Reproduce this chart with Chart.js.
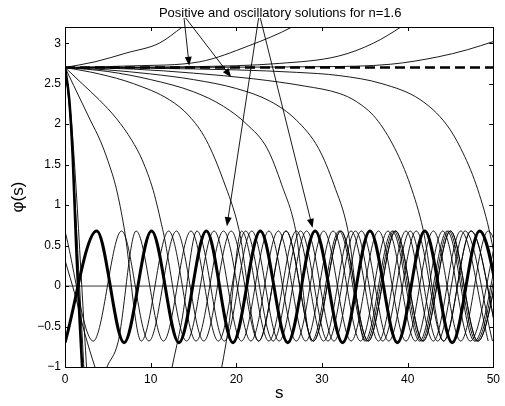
<!DOCTYPE html>
<html>
<head>
<meta charset="utf-8">
<script src="https://cdn.jsdelivr.net/npm/chart.js@4.4.0/dist/chart.umd.min.js"></script>
<style>
  html, body { margin: 0; padding: 0; background: #fff; }
  canvas { display: block; }
</style>
</head>
<body>
<canvas id="chart-phi" width="505" height="406"></canvas>
<script>
// ---- data: [s, phi] pairs ----
const TITLE = 'Positive and oscillatory solutions for n=1.6';
const X_TICKS = [0, 10, 20, 30, 40, 50];

const constLevel = [[0, 2.7], [50, 2.7]];
const zeroLine   = [[0, 0], [50, 0]];

// curves leaving the constant solution upwards
const up1 = [[0, 2.7], [3.5, 2.77], [7.2, 2.88], [11, 3.0], [13.7, 3.2], [15, 3.3]];
const up2 = [[0, 2.7], [8, 2.72], [15.7, 2.77], [21.5, 2.97], [26.5, 3.2], [28, 3.3]];
const up3 = [[0, 2.7], [15, 2.71], [25, 2.75], [31.9, 2.84], [36, 3.0], [39.2, 3.2], [40.5, 3.3]];
const up4 = [[0, 2.7], [30, 2.71], [38, 2.74], [43.5, 2.83], [47, 2.92], [50, 3.02]];

// curves leaving the constant solution downwards
const dropThick = [[0, 2.7], [0.5, 2.3], [0.9, 1.6], [1.3, 0.5], [1.65, -0.3], [2.0, -1.0], [2.3, -1.6]];
// steep drops that dive below the frame and come back into the band
const dropA = [[0, 2.7], [0.6, 2.1], [1.1, 1.2], [1.6, 0.2], [2.1, -0.8], [2.4, -1.4], [3, -2.2], [4, -2.6],
  [6, -3.0], [8.5, -2.7], [10.8, -1.9], [12.5, -1.0], [13.6, -0.45], [15.4, 0.68], [18.6, -0.68], [21.8, 0.68],
  [25.0, -0.68], [28.2, 0.68], [31.4, -0.68], [34.6, 0.68], [37.8, -0.68], [41.0, 0.68], [44.2, -0.68],
  [47.4, 0.68], [50.6, -0.68]];
const dropB = [[0, 2.7], [0.7, 2.1], [1.3, 1.2], [1.85, 0.2], [2.4, -0.8], [2.7, -1.3], [3.5, -2.2], [6, -3.2],
  [10, -3.3], [14, -2.6], [16.6, -1.8], [18.3, -1.0], [19.1, -0.5], [20.6, 0.68], [23.8, -0.68], [27.0, 0.68],
  [30.2, -0.68], [33.4, 0.68], [36.6, -0.68], [39.8, 0.68], [43.0, -0.68], [46.2, 0.68], [49.4, -0.68]];
const down2 = [[0, 2.7], [1, 2.48], [2, 2.26], [3, 2.04], [4.1, 1.8], [5, 1.55], [6, 1.2], [6.9, 0.72],
  [8.9, -0.68], [12.1, 0.68], [15.3, -0.68], [18.5, 0.68], [21.7, -0.68], [24.9, 0.68], [28.1, -0.68],
  [31.3, 0.68], [34.5, -0.68], [37.7, 0.68], [40.9, -0.68], [44.1, 0.68], [47.3, -0.68], [50.5, 0.68]];
const down3 = [[0, 2.7], [2, 2.5], [4, 2.3], [6, 2.07], [7.8, 1.8], [9, 1.56], [10.3, 1.18], [11.4, 0.7],
  [14.2, -0.68], [17.4, 0.68], [20.6, -0.68], [23.8, 0.68], [27.0, -0.68], [30.2, 0.68], [33.4, -0.68],
  [36.6, 0.68], [39.8, -0.68], [43.0, 0.68], [46.2, -0.68], [49.4, 0.68], [52.6, -0.68]];
const down4 = [[0, 2.7], [4, 2.62], [8, 2.5], [12.2, 2.3], [14.5, 2.1], [16.5, 1.8], [18.5, 1.3], [20.3, 0.7],
  [22.6, -0.68], [25.8, 0.68], [29.0, -0.68], [32.2, 0.68], [35.4, -0.68], [38.6, 0.68], [41.8, -0.68],
  [45.0, 0.68], [48.2, -0.68], [51.4, 0.68]];
const down5 = [[0, 2.7], [5, 2.65], [10, 2.55], [15, 2.4], [18.5, 2.22], [21.2, 2.0], [23.6, 1.7], [25.3, 1.25], [26.9, 0.7],
  [28.8, -0.68], [32.0, 0.68], [35.2, -0.68], [38.4, 0.68], [41.6, -0.68], [44.8, 0.68], [48.0, -0.68], [51.2, 0.68]];
const down6 = [[0, 2.7], [5, 2.67], [10, 2.62], [15, 2.55], [20, 2.44], [24, 2.28], [27, 2.05], [29.6, 1.7], [31.4, 1.25], [33, 0.7],
  [35.0, -0.68], [38.2, 0.68], [41.4, -0.68], [44.6, 0.68], [47.8, -0.68], [51.0, 0.68]];
const down7 = [[0, 2.7], [8, 2.68], [15, 2.63], [22, 2.56], [28, 2.47], [32, 2.38], [34, 2.28], [36.3, 2.07], [38.5, 1.7],
  [40.3, 1.25], [41.8, 0.7], [44.2, -0.68], [47.4, 0.68], [50.6, -0.68]];
const down8 = [[0, 2.7], [10, 2.69], [20, 2.67], [27, 2.64], [32, 2.6], [37, 2.5], [41.5, 2.3], [44.5, 2.0], [46.2, 1.7],
  [48, 1.25], [49.5, 0.7], [50.8, 0.0]];

// oscillatory solutions starting near zero
const oscThick = [[0, -0.7], [3.7, 0.68], [6.9, -0.7], [10.1, 0.68], [13.3, -0.7], [16.5, 0.68], [19.6, -0.7],
  [22.8, 0.68], [26.0, -0.7], [29.2, 0.68], [32.4, -0.7], [35.6, 0.68], [38.8, -0.7], [42.0, 0.68],
  [45.2, -0.7], [48.4, 0.68], [51.6, -0.7]];
const osc1 = [[0, 0.68], [3.3, -0.68], [6.6, 0.68], [9.8, -0.68], [13.0, 0.68], [16.2, -0.68], [19.4, 0.68],
  [22.6, -0.68], [25.8, 0.68], [29.0, -0.68], [32.2, 0.68], [35.4, -0.68], [38.6, 0.68], [41.8, -0.68],
  [45.0, 0.68], [48.2, -0.68], [51.4, 0.68]];
const osc2 = [[0, 0.32], [1.2, -0.12], [2.3, -0.58], [3.5, -1.0], [4.2, -1.2], [4.9, -1.0], [6.2, -0.69], [8.3, 0.68],
  [11.5, -0.68], [14.7, 0.68], [17.9, -0.68], [21.1, 0.68], [24.3, -0.68], [27.5, 0.68], [30.7, -0.68],
  [33.9, 0.68], [37.1, -0.68], [40.3, 0.68], [43.5, -0.68], [46.7, 0.68], [49.9, -0.68]];

// annotation arrows in data units: [from, to]
const ARROWS = [
  [[13.9, 3.31], [14.5, 2.72]],
  [[14.1, 3.31], [19.4, 2.58]],
  [[22.6, 3.31], [18.9, 0.74]],
  [[22.8, 3.31], [28.9, 0.72]]
];

const pts = arr => arr.map(([x, y]) => ({ x, y }));

const thin = [up1, up2, up3, up4, dropA, dropB, down2, down3, down4, down5, down6, down7, down8, osc1, osc2];

Chart.defaults.font.family = "'Liberation Sans', Arial, Helvetica, sans-serif";
Chart.defaults.color = '#000';

const datasets = [
  { data: pts(zeroLine), borderColor: '#000', borderWidth: 0.8 },
  ...thin.map(c => ({ data: pts(c), borderColor: '#000', borderWidth: 0.9 })),
  { data: pts(dropThick), borderColor: '#000', borderWidth: 2.6 },
  { data: pts(oscThick), borderColor: '#000', borderWidth: 3 },
  { data: pts(constLevel), borderColor: '#000', borderWidth: 2.6, borderDash: [10, 5], cubicInterpolationMode: 'default', tension: 0 }
];

const frameTicks = {
  id: 'frameTicks',
  afterDraw(chart) {
    const { ctx, chartArea: a, scales: { x, y } } = chart;
    ctx.save();
    ctx.strokeStyle = '#000';
    ctx.lineWidth = 1;
    ctx.strokeRect(Math.round(a.left) + 0.5, Math.round(a.top) + 0.5,
      Math.round(a.right - a.left), Math.round(a.bottom - a.top));
    const L = 4;
    ctx.beginPath();
    x.ticks.forEach(t => {
      const px = Math.round(x.getPixelForValue(t.value)) + 0.5;
      ctx.moveTo(px, a.bottom); ctx.lineTo(px, a.bottom - L);
      ctx.moveTo(px, a.top); ctx.lineTo(px, a.top + L);
    });
    y.ticks.forEach(t => {
      const py = Math.round(y.getPixelForValue(t.value)) + 0.5;
      ctx.moveTo(a.left, py); ctx.lineTo(a.left + L, py);
      ctx.moveTo(a.right, py); ctx.lineTo(a.right - L, py);
    });
    ctx.stroke();

    // arrows
    ctx.lineWidth = 0.9;
    ARROWS.forEach(([f, t]) => {
      const x0 = x.getPixelForValue(f[0]), y0 = y.getPixelForValue(f[1]);
      const x1 = x.getPixelForValue(t[0]), y1 = y.getPixelForValue(t[1]);
      const ang = Math.atan2(y1 - y0, x1 - x0);
      const hl = 9, hw = 3.5;
      ctx.beginPath();
      ctx.moveTo(x0, y0); ctx.lineTo(x1 - Math.cos(ang) * hl * 0.6, y1 - Math.sin(ang) * hl * 0.6);
      ctx.stroke();
      const bx = x1 - Math.cos(ang) * hl, by = y1 - Math.sin(ang) * hl;
      ctx.beginPath();
      ctx.moveTo(x1, y1);
      ctx.lineTo(bx - Math.sin(ang) * hw, by + Math.cos(ang) * hw);
      ctx.lineTo(bx + Math.sin(ang) * hw, by - Math.cos(ang) * hw);
      ctx.closePath();
      ctx.fillStyle = '#000';
      ctx.fill();
    });

    // title
    ctx.font = "13px 'Liberation Sans', Arial, sans-serif";
    ctx.textAlign = 'center';
    ctx.textBaseline = 'middle';
    ctx.fillStyle = '#000';
    ctx.fillText(TITLE, (a.left + a.right) / 2 + 1, 13);
    ctx.restore();
  }
};

new Chart(document.getElementById('chart-phi'), {
  type: 'line',
  data: { datasets },
  options: {
    responsive: false,
    animation: false,
    devicePixelRatio: 1,
    layout: { padding: { top: 27, right: 9, left: 0, bottom: 0 } },
    elements: {
      point: { radius: 0 },
      line: { cubicInterpolationMode: 'monotone', fill: false }
    },
    plugins: { legend: { display: false }, tooltip: { enabled: false }, title: { display: false } },
    scales: {
      x: {
        type: 'linear', min: 0, max: 50,
        afterFit: s => { s.height = 39; },
        afterBuildTicks: s => { s.ticks = X_TICKS.map(v => ({ value: v })); },
        grid: { display: false, drawTicks: false },
        border: { display: false },
        ticks: { padding: 5, font: { size: 12 }, color: '#000', maxRotation: 0 },
        title: { display: true, text: 's', font: { size: 17 }, color: '#000', padding: { top: 0, bottom: 2 } }
      },
      y: {
        type: 'linear', min: -1, max: 3.2,
        afterFit: s => { s.width = 65; },
        grid: { display: false, drawTicks: false },
        border: { display: false },
        ticks: {
          stepSize: 0.5, includeBounds: false, padding: 4, font: { size: 12 }, color: '#000',
          callback: v => String(v).replace('-', '\u2212')
        },
        title: { display: true, text: '\u03c6(s)', font: { size: 17 }, color: '#000', padding: { top: 8, bottom: 0 } }
      }
    }
  },
  plugins: [frameTicks]
});
</script>
</body>
</html>
